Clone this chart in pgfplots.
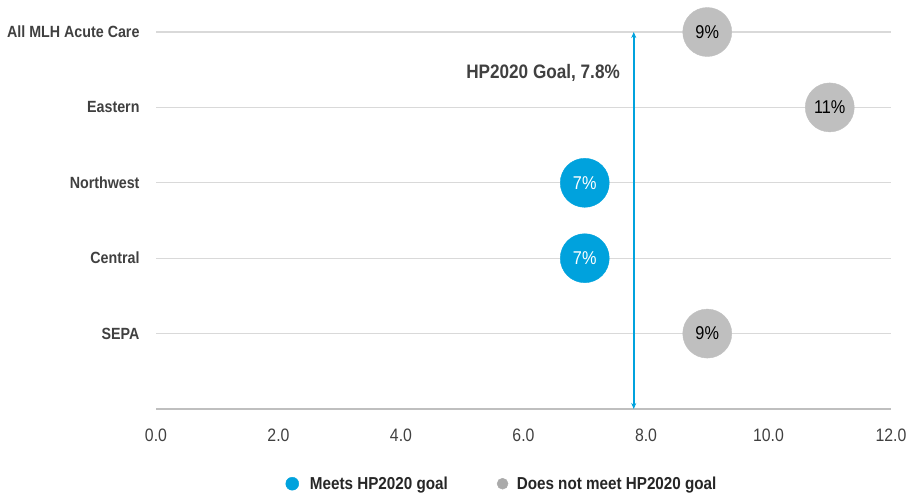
\documentclass[border=0pt]{standalone}
\usepackage{fontspec}
\setmainfont{Liberation Sans}[FakeStretch=0.88]
\usepackage{pgfplots}
\pgfplotsset{compat=1.18}
\usetikzlibrary{arrows.meta}
\definecolor{blueb}{RGB}{0,162,221}
\definecolor{grayb}{RGB}{191,191,191}
\definecolor{grayl}{RGB}{170,170,170}
\definecolor{txt}{RGB}{64,64,64}
\definecolor{legt}{RGB}{38,38,38}
\definecolor{gridc}{RGB}{217,217,217}
\newcommand{\catf}{\fontsize{16.2bp}{19bp}\selectfont\bfseries}
\newcommand{\tickf}{\fontsize{18bp}{21bp}\selectfont}
\newcommand{\legf}{\fontsize{17.3bp}{20bp}\selectfont\bfseries}
\newcommand{\annf}{\fontsize{19.5bp}{22bp}\selectfont\bfseries}
\newcommand{\bubf}{\fontsize{18.5bp}{21bp}\selectfont}
\begin{document}
\begin{tikzpicture}[x=1bp,y=1bp]
\path[use as bounding box] (0,0) rectangle (911,493);
\begin{axis}[
  at={(156bp,84bp)}, anchor=south west,
  scale only axis, width=735bp, height=399.6bp,
  xmin=0, xmax=12, ymin=0, ymax=5.3,
  clip=false,
  axis x line*=bottom, axis y line*=left,
  x axis line style={grayb, line width=1.8bp, -},
  y axis line style={draw=none},
  xtick={0,2,4,6,8,10,12},
  xticklabels={0.0,2.0,4.0,6.0,8.0,10.0,12.0},
  ytick={1,2,3,4,5},
  yticklabels={SEPA,Central,Northwest,Eastern,All MLH Acute Care},
  ymajorgrids, grid style={gridc, line width=1.2bp},
  major tick length=0pt,
  xticklabel style={txt, font=\tickf, yshift=-16bp},
  yticklabel style={txt, font=\catf, xshift=-13bp},
  legend style={draw=none, fill=none, inner sep=0pt, at={(0.176,-0.187)}, anchor=west, font=\legf, text=legt,
    /tikz/every even column/.append style={column sep=47bp}},
  legend columns=2,
]
\addplot[blueb, line width=1.6bp, {Stealth[length=6bp,width=5bp]}-{Stealth[length=6bp,width=5bp]}, forget plot] coordinates {(7.8,0) (7.8,5)};
\addplot[blueb, only marks, mark=*, mark size=24.5bp, mark options={draw=blueb, fill=blueb},
  point meta=x, nodes near coords={\pgfmathprintnumber[assume math mode=true]{\pgfplotspointmeta}\%},
  nodes near coords style={anchor=center, white, font=\bubf},
  legend image code/.code={\fill[blueb] (0bp,0bp) circle (6.5bp); \path (15.5bp,0bp);}]
  coordinates {(7,3) (7,2)};
\addlegendentry{Meets HP2020 goal}
\addplot[grayb, only marks, mark=*, mark size=24.5bp, mark options={draw=grayb, fill=grayb},
  point meta=x, nodes near coords={\pgfmathprintnumber[assume math mode=true]{\pgfplotspointmeta}\%},
  nodes near coords style={anchor=center, black, font=\bubf},
  legend image code/.code={\fill[grayl] (0bp,0bp) circle (5.5bp); \path (12bp,0bp);}]
  coordinates {(9,5) (11,4) (9,1)};
\addlegendentry{Does not meet HP2020 goal}
\node[anchor=east, txt, font=\annf] at (axis cs:7.63,4.46) {HP2020 Goal, 7.8\%};
\end{axis}
\end{tikzpicture}
\end{document}
